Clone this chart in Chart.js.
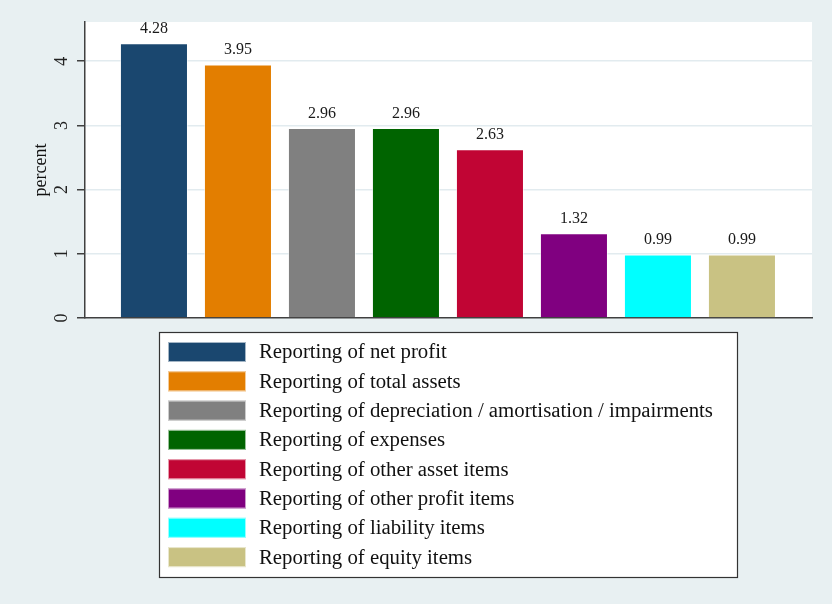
<!DOCTYPE html>
<html>
<head>
<meta charset="utf-8">
<title>Reporting errors by item</title>
<script src="https://cdn.jsdelivr.net/npm/chart.js@4.4.1/dist/chart.umd.min.js"></script>
<style>
  html, body { margin: 0; padding: 0; background: #e8f0f2; }
  canvas { display: block; }
</style>
</head>
<body>
<canvas id="reportChart" width="832" height="604"></canvas>
<script>
// --- Data ---
const categories = [
    'Reporting of net profit',
    'Reporting of total assets',
    'Reporting of depreciation / amortisation / impairments',
    'Reporting of expenses',
    'Reporting of other asset items',
    'Reporting of other profit items',
    'Reporting of liability items',
    'Reporting of equity items'
];
const percentValues = [4.28, 3.95, 2.96, 2.96, 2.63, 1.32, 0.99, 0.99];
const yTicks = [0, 1, 2, 3, 4];

// stata-ish palette
const barColors = ['#1a476f', '#e37e00', '#808080', '#006400', '#c10534', '#800080', '#00ffff', '#c9c283'];

const serif = "'Liberation Serif', 'DejaVu Serif', serif";

// --- Plugins ---
const plotBackground = {
    id: 'plotBackground',
    beforeDraw(chart) {
        const { ctx, chartArea: a } = chart;
        ctx.save();
        ctx.fillStyle = '#e8f0f2';
        ctx.fillRect(0, 0, chart.width, chart.height);
        ctx.fillStyle = '#ffffff';
        ctx.fillRect(a.left, a.top, a.right - a.left, a.bottom - a.top);
        ctx.restore();
    }
};

const valueLabels = {
    id: 'valueLabels',
    afterDatasetsDraw(chart) {
        const { ctx } = chart;
        const meta = chart.getDatasetMeta(0);
        ctx.save();
        ctx.font = '16px ' + serif;
        ctx.fillStyle = '#1a1a1a';
        ctx.textAlign = 'center';
        ctx.textBaseline = 'alphabetic';
        meta.data.forEach((bar, i) => {
            ctx.fillText(percentValues[i].toFixed(2), bar.x, bar.y - 10);
        });
        ctx.restore();
    }
};

// legend box below the plot, one row per bar
const boxLegend = {
    id: 'boxLegend',
    afterDraw(chart) {
        const { ctx } = chart;
        const box = { left: 159, top: 332, right: 737, bottom: 577 };
        const rowTop = 352, rowStep = 29.3;
        ctx.save();
        ctx.fillStyle = '#ffffff';
        ctx.fillRect(box.left, box.top, box.right - box.left, box.bottom - box.top);
        ctx.strokeStyle = '#333333';
        ctx.lineWidth = 1.2;
        ctx.strokeRect(box.left + 0.5, box.top + 0.5, box.right - box.left, box.bottom - box.top);

        ctx.font = '20.8px ' + serif;
        ctx.textAlign = 'left';
        ctx.textBaseline = 'middle';
        categories.forEach((label, i) => {
            const cy = rowTop + i * rowStep;
            ctx.fillStyle = barColors[i];
            ctx.fillRect(168, cy - 10, 78, 20);
            ctx.strokeStyle = 'rgba(255,255,255,0.6)';
            ctx.lineWidth = 1;
            ctx.strokeRect(168.5, cy - 9.5, 77, 19);
            ctx.fillStyle = '#111111';
            ctx.fillText(label, 259, cy + 1);
        });
        ctx.restore();
    }
};

// --- Chart ---
const ctx = document.getElementById('reportChart').getContext('2d');
new Chart(ctx, {
    type: 'bar',
    data: {
        labels: categories,
        datasets: [{
            label: 'percent',
            data: percentValues.map((v, i) => ({ x: i, y: v })),
            backgroundColor: barColors,
            borderColor: 'rgba(255,255,255,0.55)',
            borderWidth: 1,
            categoryPercentage: 1,
            barPercentage: 0.81
        }]
    },
    options: {
        responsive: false,
        animation: false,
        layout: { padding: { left: 0, right: 20, top: 22, bottom: 286 } },
        plugins: {
            legend: { display: false },
            tooltip: { enabled: false }
        },
        scales: {
            x: {
                type: 'linear',
                offset: false,
                min: -0.821,
                max: 7.834,
                // one hidden tick per bar so the bar width follows the bar spacing
                afterBuildTicks: s => { s.ticks = categories.map((c, i) => ({ value: i })); },
                ticks: { display: false },
                grid: { display: false },
                border: { display: true, color: '#404040', width: 1.5 },
                afterFit: s => { s.height = 0; }
            },
            y: {
                min: 0,
                max: 4.61,
                afterBuildTicks: s => { s.ticks = yTicks.map(v => ({ value: v })); },
                ticks: {
                    includeBounds: false,
                    minRotation: 90,
                    maxRotation: 90,
                    crossAlign: 'center',
                    padding: 10.5,
                    color: '#222222',
                    font: { family: serif, size: 18 }
                },
                grid: {
                    color: c => (c.tick && c.tick.value === 0) ? 'rgba(0,0,0,0)' : '#e2ebef',
                    lineWidth: 1.5,
                    tickColor: '#404040',
                    tickLength: 8
                },
                border: { display: true, color: '#404040', width: 1.5 },
                title: {
                    display: true,
                    text: 'percent',
                    color: '#111111',
                    font: { family: serif, size: 18 },
                    padding: { top: 30, bottom: 0 }
                },
                afterFit: s => { s.width = 85; }
            }
        }
    },
    plugins: [plotBackground, valueLabels, boxLegend]
});
</script>
</body>
</html>
